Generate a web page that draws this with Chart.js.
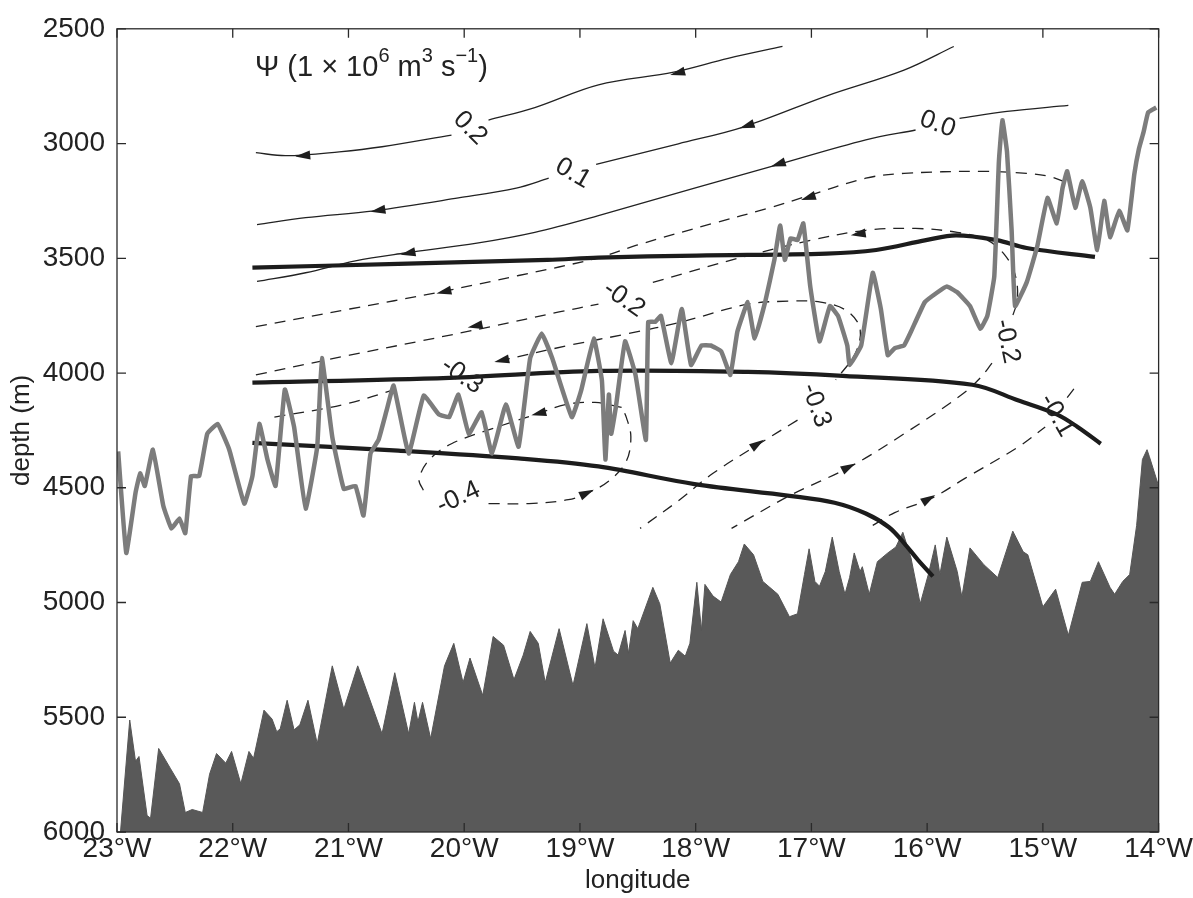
<!DOCTYPE html>
<html>
<head>
<meta charset="utf-8">
<title>Overturning streamfunction section</title>
<script src="https://cdn.jsdelivr.net/npm/chart.js"></script>
<style>
  html, body { margin: 0; padding: 0; background: #fff; }
  #wrap { width: 1193px; height: 898px; }
</style>
</head>
<body>
<div id="wrap"><canvas id="sectionChart" width="1193" height="898"></canvas></div>
<script>
// axes
const lonTicks = [-23, -22, -21, -20, -19, -18, -17, -16, -15, -14];
const lonTickLabels = ['23°W', '22°W', '21°W', '20°W', '19°W', '18°W', '17°W', '16°W', '15°W', '14°W'];
const depthTicks = [2500, 3000, 3500, 4000, 4500, 5000, 5500, 6000];

// bottom topography (shaded)
const bathyLon = [-22.97, -22.89, -22.84, -22.81, -22.74, -22.71, -22.64, -22.54, -22.46, -22.41,
  -22.35, -22.26, -22.20, -22.14, -22.06, -22.01, -21.93, -21.86, -21.82, -21.73,
  -21.66, -21.62, -21.59, -21.53, -21.47, -21.42, -21.35, -21.27, -21.14, -21.04,
  -20.92, -20.71, -20.60, -20.48, -20.43, -20.40, -20.36, -20.29, -20.17, -20.09,
  -20.01, -19.95, -19.84, -19.75, -19.66, -19.57, -19.49, -19.43, -19.36, -19.30,
  -19.18, -19.06, -18.94, -18.87, -18.80, -18.71, -18.67, -18.61, -18.58, -18.54,
  -18.50, -18.37, -18.31, -18.22, -18.15, -18.09, -18.05, -17.99, -17.95, -17.92,
  -17.85, -17.78, -17.70, -17.63, -17.58, -17.50, -17.42, -17.36, -17.29, -17.19,
  -17.12, -17.06, -17.02, -16.97, -16.93, -16.88, -16.82, -16.76, -16.71, -16.67,
  -16.63, -16.58, -16.56, -16.50, -16.43, -16.34, -16.27, -16.21, -16.14, -16.06,
  -15.99, -15.93, -15.89, -15.83, -15.74, -15.70, -15.63, -15.51, -15.39, -15.26,
  -15.17, -15.13, -15.00, -14.89, -14.78, -14.66, -14.59, -14.52, -14.42, -14.38,
  -14.31, -14.25, -14.19, -14.14, -14.10, -14.08, -14.00];
const bathyDepth = [6000, 5512, 5692, 5671, 5928, 5940, 5636, 5722, 5790, 5915,
  5902, 5915, 5748, 5658, 5700, 5649, 5790, 5649, 5679, 5469,
  5508, 5563, 5551, 5426, 5555, 5533, 5426, 5615, 5276, 5465,
  5276, 5572, 5306, 5572, 5435, 5521, 5435, 5593, 5276, 5178,
  5349, 5242, 5405, 5148, 5186, 5336, 5229, 5126, 5178, 5349,
  5114, 5362, 5092, 5285, 5071, 5212, 5229, 5122, 5221, 5079,
  5114, 4934, 5006, 5264, 5208, 5234, 5178, 4912, 5122, 4921,
  4972, 4998, 4878, 4822, 4745, 4792, 4908, 4934, 4964, 5062,
  5049, 4878, 4766, 4908, 4929, 4865, 4715, 4865, 4964, 4891,
  4784, 4865, 4844, 4964, 4822, 4784, 4758, 4694, 4805, 5006,
  4878, 4749, 4878, 4715, 4865, 4976, 4762, 4835, 4891, 4689,
  4779, 4792, 5019, 4942, 5143, 4912, 4908, 4822, 4934, 4964,
  4908, 4878, 4664, 4377, 4334, 4364, 4492];

// grey wiggly curve
const greyLon = [-22.99, -22.92, -22.84, -22.80, -22.76, -22.69, -22.60, -22.53, -22.46, -22.41,
  -22.36, -22.29, -22.22, -22.13, -22.03, -21.90, -21.83, -21.77, -21.70, -21.63,
  -21.55, -21.47, -21.37, -21.27, -21.23, -21.14, -21.04, -20.94, -20.87, -20.81,
  -20.74, -20.67, -20.61, -20.48, -20.35, -20.22, -20.13, -20.05, -19.96, -19.85,
  -19.76, -19.64, -19.53, -19.43, -19.33, -19.24, -19.07, -18.99, -18.88, -18.81,
  -18.78, -18.75, -18.73, -18.69, -18.61, -18.52, -18.43, -18.41, -18.35, -18.30,
  -18.21, -18.12, -18.04, -17.95, -17.87, -17.78, -17.70, -17.64, -17.55, -17.49,
  -17.40, -17.32, -17.27, -17.23, -17.18, -17.12, -17.07, -17.01, -16.93, -16.84,
  -16.77, -16.69, -16.67, -16.57, -16.47, -16.40, -16.34, -16.28, -16.20, -16.14,
  -16.02, -15.91, -15.83, -15.74, -15.63, -15.54, -15.48, -15.42, -15.38, -15.35,
  -15.31, -15.27, -15.24, -15.14, -15.05, -14.96, -14.88, -14.83, -14.79, -14.72,
  -14.66, -14.59, -14.53, -14.47, -14.42, -14.34, -14.27, -14.21, -14.17, -14.13,
  -14.09, -14.02];
const greyDepth = [4342, 4784, 4522, 4437, 4492, 4334, 4578, 4677, 4634, 4698,
  4449, 4449, 4265, 4222, 4334, 4569, 4449, 4222, 4377, 4492,
  4072, 4235, 4591, 4321, 3935, 4278, 4505, 4492, 4621, 4351,
  4291, 4162, 4055, 4351, 4098, 4180, 4192, 4094, 4265, 4171,
  4351, 4137, 4321, 3935, 3828, 3935, 4192, 4077, 3850, 4034,
  4377, 4094, 4265, 4150, 3862, 4008, 4291, 3777, 3777, 3751,
  3957, 3721, 3965, 3880, 3880, 3905, 4008, 3820, 3691, 3850,
  3691, 3507, 3357, 3507, 3413, 3421, 3348, 3623, 3862, 3708,
  3751, 3880, 3965, 3880, 3563, 3721, 3922, 3892, 3880, 3820,
  3691, 3648, 3623, 3648, 3708, 3807, 3751, 3580, 3078, 2898,
  3036, 3378, 3708, 3605, 3451, 3237, 3348, 3194, 3121, 3280,
  3164, 3280, 3464, 3250, 3408, 3293, 3378, 3134, 3023, 2950,
  2864, 2843];

// thick black curves
const thickALon = [-21.83, -20.57, -19.28, -18.84, -17.99, -16.87, -16.44, -16.01, -15.75, -15.40, -15.14, -14.55];
const thickADepth = [3541, 3524, 3507, 3497, 3488, 3480, 3464, 3421, 3400, 3421, 3455, 3494];
const thickBLon = [-21.83, -20.13, -18.84, -17.55, -16.73, -15.61, -15.21, -14.88, -14.70, -14.50];
const thickBDepth = [4042, 4021, 3991, 3995, 4012, 4051, 4120, 4180, 4235, 4308];
const thickCLon = [-21.83, -20.57, -19.53, -18.84, -18.01, -17.19, -16.80, -16.53, -16.33, -16.20, -16.08, -15.95];
const thickCDepth = [4304, 4338, 4372, 4407, 4484, 4535, 4565, 4612, 4672, 4741, 4814, 4886];

// streamfunction contours (null = gap for inline label)
const psi02Lon = [-21.80, -21.54, -21.08, -20.71, -20.11, -19.95, -19.79, -19.39, -18.84, -18.19, -17.72, -17.25];
const psi02Depth = [3040, 3053, 3036, 3014, 2963, null, 2898, 2843, 2744, 2689, 2629, 2577];
const psi01Lon = [-21.79, -21.37, -20.78, -20.05, -19.55, -19.27, -19.06, -18.86, -18.15, -17.59, -16.86, -16.20, -15.77];
const psi01Depth = [3353, 3323, 3293, 3237, 3194, 3151, null, 3091, 3001, 2928, 2791, 2680, 2577];
const psi00Lon = [-21.79, -21.37, -20.94, -20.51, -19.89, -19.39, -18.84, -18.01, -17.32, -16.53, -16.10, -15.91, -15.72, -15.31, -14.78];
const psi00Depth = [3601, 3563, 3511, 3477, 3434, 3387, 3314, 3194, 3096, 2984, 2941, null, 2890, 2860, 2834];
const psiM01Lon = [-21.80, -20.99, -20.22, -19.53, -18.84, -18.51, -17.85, -17.36, -17.06, -16.53, -16.20, -15.54, -15.14, -14.95, -14.78];
const psiM01Depth = [3798, 3721, 3648, 3575, 3498, 3443, 3348, 3280, 3233, 3151, 3130, 3121, 3130, 3143, 3173];
const psiM01bLon = [-16.47, -16.28, -15.97, -15.67, -15.21, -14.98, -14.88, -14.79, -14.71];
const psiM01bDepth = [4664, 4608, 4548, 4458, 4321, 4235, null, 4107, 4055];
const psiM02Lon = [-21.80, -20.99, -20.39, -19.77, -19.18, -18.84, -18.62, -18.37, -17.62, -17.00, -16.53, -16.10, -15.74,
  -15.48, -15.33, -15.24, -15.22, -15.27, -15.35, -15.44, -15.54, -15.70, -16.20, -16.66, -17.19, -17.69];
const psiM02Depth = [4008, 3922, 3862, 3798, 3734, 3700, null, 3605, 3498, 3421, 3378, 3370, 3387,
  3421, 3485, 3571, 3678, 3764, null, 3957, 4021, 4094, 4265, 4407, 4535, 4677];
const psiM03Lon = [-21.64, -21.04, -20.55, -20.10, -19.70, -19.10, -18.58, -18.12, -17.55, -17.20, -16.92, -16.69, -16.58,
  -16.62, -16.79, -16.95, -17.12, -17.45, -17.85, -18.15, -18.48];
const psiM03Depth = [4192, 4137, 4064, null, 3948, 3880, 3828, 3777, 3700, 3687, 3691, 3730, 3807,
  3914, 4030, null, 4205, 4308, 4437, 4557, 4677];
const psiM04Lon = [-18.64, -18.87, -19.12, -19.38, -19.79, -20.11, -20.30, -20.39, -20.35, -20.05, -19.79, -19.44, -19.10,
  -18.93, -18.75, -18.60, -18.56, -18.60, -18.64];
const psiM04Depth = [4150, 4128, 4137, 4180, 4248, 4308, 4377, 4462, 4514, null, 4569, 4569, 4552,
  4522, 4471, 4385, 4278, 4192, 4150];

// flow arrows: from tail point to head point
const arrowTailLon = [-21.29, -18.06, -20.65, -17.46, -20.39, -17.19, -20.08, -16.93, -19.80, -16.50, -19.58, -19.25, -19.03, -17.55, -16.76, -16.07];
const arrowTailDepth = [3048, 2680, 3284, 2907, 3468, 3074, 3635, 3220, 3785, 3387, 3935, 4162, 4544, 4338, 4432, 4574];
const arrowHeadLon = [-21.46, -18.22, -20.81, -17.62, -20.55, -17.35, -20.24, -17.09, -19.97, -16.66, -19.74, -19.42, -18.88, -17.41, -16.62, -15.93];
const arrowHeadDepth = [3057, 2701, 3297, 2933, 3485, 3100, 3653, 3246, 3802, 3400, 3952, 4184, 4509, 4291, 4394, 4531];

// contour labels
const labelText = ['0.2', '0.1', '0.0', '-0.2', '-0.3', '-0.4', '-0.3', '-0.2', '-0.1'];
const labelLon = [-19.95, -19.06, -15.91, -18.62, -20.02, -20.05, -16.96, -15.31, -14.88];
const labelDepth = [2933, 3130, 2916, 3678, 4012, 4544, 4141, 3862, 4184];
const labelAngle = [45, 30, 20, 35, 35, -25, 70, 78, 60];

function pts(lons, depths) {
  return lons.map((lon, i) => ({ x: lon, y: depths[i] }));
}

function contour(lons, depths, dashed) {
  return {
    data: pts(lons, depths),
    showLine: true,
    pointRadius: 0,
    borderColor: '#222',
    borderWidth: 1.3,
    borderDash: dashed ? [11, 8] : [],
    tension: 0.35,
    spanGaps: false,
    fill: false,
    order: 4
  };
}

function thick(lons, depths) {
  return {
    data: pts(lons, depths),
    showLine: true,
    pointRadius: 0,
    borderColor: '#1c1c1c',
    borderWidth: 4.2,
    tension: 0.35,
    fill: false,
    order: 3
  };
}

const AXIS_FONT = '"Liberation Sans", Arial, Helvetica, sans-serif';

const overlay = {
  id: 'overlay',
  afterDatasetsDraw(chart) {
    const { ctx, chartArea: a, scales: { x, y } } = chart;
    ctx.save();

    // arrow heads
    ctx.fillStyle = '#1e1e1e';
    arrowHeadLon.forEach((lon, i) => {
      const hx = x.getPixelForValue(lon), hy = y.getPixelForValue(arrowHeadDepth[i]);
      const tx = x.getPixelForValue(arrowTailLon[i]), ty = y.getPixelForValue(arrowTailDepth[i]);
      const ang = Math.atan2(hy - ty, hx - tx);
      ctx.save();
      ctx.translate(hx, hy);
      ctx.rotate(ang);
      ctx.beginPath();
      ctx.moveTo(0, 0);
      ctx.lineTo(-15, -4.5);
      ctx.lineTo(-15, 4.5);
      ctx.closePath();
      ctx.fill();
      ctx.restore();
    });

    // contour labels
    ctx.fillStyle = '#222';
    ctx.font = '26px ' + AXIS_FONT;
    ctx.textAlign = 'center';
    ctx.textBaseline = 'middle';
    labelText.forEach((t, i) => {
      ctx.save();
      ctx.translate(x.getPixelForValue(labelLon[i]), y.getPixelForValue(labelDepth[i]));
      ctx.rotate(labelAngle[i] * Math.PI / 180);
      ctx.fillText(t, 0, 0);
      ctx.restore();
    });

    // frame and inward ticks
    ctx.strokeStyle = '#2a2a2a';
    ctx.lineWidth = 1.3;
    ctx.strokeRect(a.left, a.top, a.right - a.left, a.bottom - a.top);
    ctx.beginPath();
    lonTicks.forEach(v => {
      const px = x.getPixelForValue(v);
      ctx.moveTo(px, a.bottom); ctx.lineTo(px, a.bottom - 9);
      ctx.moveTo(px, a.top); ctx.lineTo(px, a.top + 9);
    });
    depthTicks.forEach(v => {
      const py = y.getPixelForValue(v);
      ctx.moveTo(a.left, py); ctx.lineTo(a.left + 9, py);
      ctx.moveTo(a.right, py); ctx.lineTo(a.right - 9, py);
    });
    ctx.stroke();

    // streamfunction unit note
    let cx = a.left + 138;
    const by = a.top + 47;
    ctx.textAlign = 'left';
    ctx.textBaseline = 'alphabetic';
    const parts = [
      ['Ψ (1 × 10', 29, 0], ['6', 20, -14], [' m', 29, 0], ['3', 20, -14],
      [' s', 29, 0], ['−1', 20, -14], [')', 29, 0]
    ];
    parts.forEach(([t, size, dy]) => {
      ctx.font = size + 'px ' + AXIS_FONT;
      ctx.fillText(t, cx, by + dy);
      cx += ctx.measureText(t).width;
    });
    ctx.restore();
  }
};

new Chart(document.getElementById('sectionChart'), {
  type: 'scatter',
  data: {
    datasets: [
      thick(thickALon, thickADepth),
      thick(thickBLon, thickBDepth),
      thick(thickCLon, thickCDepth),
      {
        data: pts(greyLon, greyDepth),
        showLine: true,
        pointRadius: 0,
        borderColor: '#7c7c7c',
        borderWidth: 4.5,
        borderJoinStyle: 'round',
        tension: 0.1,
        fill: false,
        order: 2
      },
      contour(psi02Lon, psi02Depth, false),
      contour(psi01Lon, psi01Depth, false),
      contour(psi00Lon, psi00Depth, false),
      contour(psiM01Lon, psiM01Depth, true),
      contour(psiM01bLon, psiM01bDepth, true),
      contour(psiM02Lon, psiM02Depth, true),
      contour(psiM03Lon, psiM03Depth, true),
      contour(psiM04Lon, psiM04Depth, true),
      {
        data: pts(bathyLon, bathyDepth),
        showLine: true,
        pointRadius: 0,
        borderColor: '#565656',
        borderWidth: 1,
        backgroundColor: '#595959',
        tension: 0,
        fill: { value: 6000 },
        order: 6
      }
    ]
  },
  options: {
    responsive: false,
    devicePixelRatio: 1,
    animation: false,
    layout: { padding: { top: 15, right: 33, left: 0, bottom: 0 } },
    plugins: {
      legend: { display: false },
      tooltip: { enabled: false }
    },
    scales: {
      x: {
        type: 'linear',
        min: -23,
        max: -14,
        afterBuildTicks: s => { s.ticks = lonTicks.map(v => ({ value: v })); },
        afterFit: s => { s.height = 66; },
        ticks: {
          callback: (v, i) => lonTickLabels[i],
          font: { family: AXIS_FONT, size: 28 },
          color: '#222',
          padding: 0,
          maxRotation: 0,
          autoSkip: false
        },
        grid: { display: false, drawTicks: false },
        border: { display: false },
        title: {
          display: true,
          text: 'longitude',
          font: { family: AXIS_FONT, size: 26 },
          color: '#222',
          padding: { top: 0, bottom: 2 }
        }
      },
      y: {
        type: 'linear',
        reverse: true,
        min: 2500,
        max: 6000,
        afterBuildTicks: s => { s.ticks = depthTicks.map(v => ({ value: v })); },
        afterFit: s => { s.width = 117; },
        ticks: {
          callback: (v, i) => String(depthTicks[i]),
          font: { family: AXIS_FONT, size: 28 },
          color: '#222',
          padding: 12,
          autoSkip: false
        },
        grid: { display: false, drawTicks: false },
        border: { display: false },
        title: {
          display: true,
          text: 'depth (m)',
          font: { family: AXIS_FONT, size: 26 },
          color: '#222',
          padding: { top: 6, bottom: 0 }
        }
      }
    }
  },
  plugins: [overlay]
});
</script>
</body>
</html>
